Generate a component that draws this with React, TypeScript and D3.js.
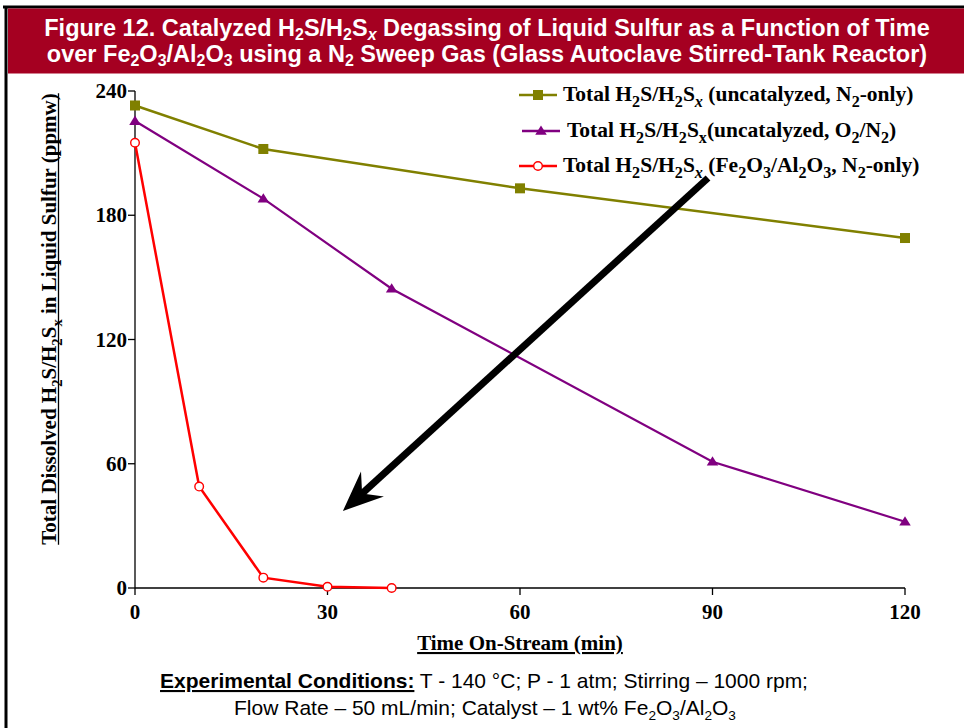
import React, { useRef, useLayoutEffect, useState } from "react";
import * as d3 from "d3";

const timeN2 = [0, 20, 60, 120];
const valN2 = [233, 212, 193, 169];
const timeO2 = [0, 20, 40, 90, 120];
const valO2 = [225.5, 188, 144.5, 61, 32];
const timeCat = [0, 10, 20, 30, 40];
const valCat = [215, 49, 5, 0.6, 0];
const xTicks = [0, 30, 60, 90, 120];
const yTicks = [0, 60, 120, 180, 240];
// annotation arrow in data units: [time, value]
const arrowFrom = [89.3, 198];
const arrowTo = [32.4, 37.2];

const W = 964;
const H = 728;
const SERIF = "'Liberation Serif', 'Times New Roman', serif";
const SANS = "'Liberation Sans', Arial, sans-serif";

type Seg = { t: string; sub?: boolean; i?: boolean; b?: boolean; u?: boolean };

function Rich({ segs, size, subScale = 0.7, subDy = 0.28 }: { segs: Seg[]; size: number; subScale?: number; subDy?: number }) {
  const out: React.ReactNode[] = [];
  let shifted = false;
  segs.forEach((s, k) => {
    let dy: number | undefined = undefined;
    if (s.sub && !shifted) { dy = size * subDy; shifted = true; }
    else if (!s.sub && shifted) { dy = -size * subDy; shifted = false; }
    out.push(
      <tspan key={k} dy={dy} fontSize={s.sub ? size * subScale : size}
        fontStyle={s.i ? "italic" : undefined}
        fontWeight={s.b === false ? "normal" : undefined}
        textDecoration={s.u ? "underline" : undefined}>{s.t}</tspan>
    );
  });
  return <>{out}</>;
}

export default function App() {
  const x = d3.scaleLinear().domain([0, 120]).range([135, 905]);
  const y = d3.scaleLinear().domain([0, 240]).range([588, 91]);

  const ylabRef = useRef<SVGTextElement>(null);
  const [ylabLen, setYlabLen] = useState(0);
  useLayoutEffect(() => {
    if (ylabRef.current) setYlabLen(ylabRef.current.getComputedTextLength());
  }, []);

  const line = d3.line<[number, number]>().x(d => x(d[0])).y(d => y(d[1]));
  const zip = (a: number[], b: number[]) => a.map((v, i) => [v, b[i]] as [number, number]);
  const sN2 = zip(timeN2, valN2);
  const sO2 = zip(timeO2, valO2);
  const sCat = zip(timeCat, valCat);

  const olive = "#808000";
  const purple = "#800080";
  const red = "#FF0000";

  const tri = (cx: number, cy: number, r: number) =>
    `M${cx},${cy - r}L${cx + r * 1.05},${cy + r * 0.7}L${cx - r * 1.05},${cy + r * 0.7}Z`;

  // arrow
  const ax0 = x(arrowFrom[0]), ay0 = y(arrowFrom[1]);
  const ax1 = x(arrowTo[0]), ay1 = y(arrowTo[1]);
  const dx = ax1 - ax0, dy = ay1 - ay0;
  const len = Math.hypot(dx, dy);
  const ux = dx / len, uy = dy / len;
  const px = -uy, py = ux;
  const headL = 40, headW = 17, notch = 26;
  const wing1 = [ax1 - ux * headL + px * headW, ay1 - uy * headL + py * headW];
  const wing2 = [ax1 - ux * headL - px * headW, ay1 - uy * headL - py * headW];
  const nb = [ax1 - ux * notch, ay1 - uy * notch];
  const headPath = `M${ax1},${ay1}L${wing1[0]},${wing1[1]}L${nb[0]},${nb[1]}L${wing2[0]},${wing2[1]}Z`;

  const FS = 21;
  const LFS = 21.5;
  const TFS = 23.5;
  const legendItems = [
    { y: 95, x0: 519, tx: 563, color: olive, kind: "sq", segs: [
      { t: "Total H" }, { t: "2", sub: true }, { t: "S/H" }, { t: "2", sub: true }, { t: "S" }, { t: "x", sub: true, i: true },
      { t: " (uncatalyzed, N" }, { t: "2", sub: true }, { t: "-only)" }] as Seg[] },
    { y: 131, x0: 522, tx: 567, color: purple, kind: "tri", segs: [
      { t: "Total H" }, { t: "2", sub: true }, { t: "S/H" }, { t: "2", sub: true }, { t: "S" }, { t: "x", sub: true },
      { t: "(uncatalyzed, O" }, { t: "2", sub: true }, { t: "/N" }, { t: "2", sub: true }, { t: ")" }] as Seg[] },
    { y: 166, x0: 519, tx: 563, color: red, kind: "circ", segs: [
      { t: "Total H" }, { t: "2", sub: true }, { t: "S/H" }, { t: "2", sub: true }, { t: "S" }, { t: "x", sub: true, i: true },
      { t: " (Fe" }, { t: "2", sub: true }, { t: "O" }, { t: "3", sub: true }, { t: "/Al" }, { t: "2", sub: true }, { t: "O" }, { t: "3", sub: true },
      { t: ", N" }, { t: "2", sub: true }, { t: "-only)" }] as Seg[] },
  ];

  const ylabX = 56, ylabY = 319;

  return (
    <svg width={W} height={H} style={{ position: "absolute", left: 0, top: 0, background: "#fff" }}>
      <rect x={0} y={0} width={W} height={H} fill="#fff" />
      {/* frame */}
      <line x1={3} y1={7} x2={W} y2={7} stroke="#000" strokeWidth={3} />
      <line x1={6} y1={6} x2={6} y2={H} stroke="#000" strokeWidth={3} />
      <rect x={8} y={8.5} width={W - 8} height={65} fill="#A50021" />
      <text x={487} y={36} textAnchor="middle" fill="#fff" fontFamily={SANS} fontWeight="bold" fontSize={TFS}>
        <Rich size={TFS} subDy={0.18} subScale={0.68} segs={[{ t: "Figure 12. Catalyzed H" }, { t: "2", sub: true }, { t: "S/H" }, { t: "2", sub: true }, { t: "S" }, { t: "x", sub: true, i: true },
          { t: " Degassing of Liquid Sulfur as a Function of Time" }]} />
      </text>
      <text x={487} y={62} textAnchor="middle" fill="#fff" fontFamily={SANS} fontWeight="bold" fontSize={TFS}>
        <Rich size={TFS} subDy={0.18} subScale={0.68} segs={[{ t: "over Fe" }, { t: "2", sub: true }, { t: "O" }, { t: "3", sub: true }, { t: "/Al" }, { t: "2", sub: true }, { t: "O" }, { t: "3", sub: true },
          { t: " using a N" }, { t: "2", sub: true }, { t: " Sweep Gas (Glass Autoclave Stirred-Tank Reactor)" }]} />
      </text>

      {/* axes */}
      <line x1={x(0)} y1={y(0)} x2={x(120)} y2={y(0)} stroke="#000" strokeWidth={1.3} />
      <line x1={x(0)} y1={y(0)} x2={x(0)} y2={y(240)} stroke="#000" strokeWidth={1.3} />
      {xTicks.map(t => (
        <g key={"xt" + t}>
          <line x1={x(t)} x2={x(t)} y1={y(0)} y2={y(0) + 7} stroke="#000" strokeWidth={1.3} />
          <text x={x(t)} y={y(0) + 31} textAnchor="middle" fontFamily={SERIF} fontWeight="bold" fontSize={FS}>{t}</text>
        </g>
      ))}
      {yTicks.map(t => (
        <g key={"yt" + t}>
          <line x1={x(0) - 7} x2={x(0)} y1={y(t)} y2={y(t)} stroke="#000" strokeWidth={1.3} />
          <text x={x(0) - 8} y={y(t) + 7} textAnchor="end" fontFamily={SERIF} fontWeight="bold" fontSize={FS}>{t}</text>
        </g>
      ))}
      <text x={520} y={650} textAnchor="middle" fontFamily={SERIF} fontWeight="bold" fontSize={FS} textDecoration="underline">Time On-Stream (min)</text>
      <g transform={`translate(${ylabX},${ylabY}) rotate(-90)`}>
        <text ref={ylabRef} x={0} y={0} textAnchor="middle" fontFamily={SERIF} fontWeight="bold" fontSize={FS}>
          <Rich size={FS} segs={[{ t: "Total Dissolved H" }, { t: "2", sub: true }, { t: "S/H" }, { t: "2", sub: true }, { t: "S" },
            { t: "x", sub: true }, { t: " in Liquid Sulfur (ppmw)" }]} />
        </text>
        {ylabLen > 0 && <line x1={-ylabLen / 2} x2={ylabLen / 2} y1={2.5} y2={2.5} stroke="#000" strokeWidth={1.3} />}
      </g>

      {/* series */}
      <path d={line(sN2) || ""} fill="none" stroke={olive} strokeWidth={2.5} />
      <path d={line(sO2) || ""} fill="none" stroke={purple} strokeWidth={2.2} />
      <path d={line(sCat) || ""} fill="none" stroke={red} strokeWidth={2.5} />
      {sN2.map((d, i) => <rect key={"s" + i} x={x(d[0]) - 5} y={y(d[1]) - 5} width={10} height={10} fill={olive} />)}
      {sO2.map((d, i) => <path key={"t" + i} d={tri(x(d[0]), y(d[1]), 5.5)} fill={purple} />)}
      {sCat.map((d, i) => <circle key={"c" + i} cx={x(d[0])} cy={y(d[1])} r={4.3} fill="#fff" stroke={red} strokeWidth={1.4} />)}

      {/* arrow */}
      <line x1={ax0} y1={ay0} x2={nb[0] + ux * 2} y2={nb[1] + uy * 2} stroke="#000" strokeWidth={7} />
      <path d={headPath} fill="#000" />

      {/* legend */}
      {legendItems.map((it, i) => (
        <g key={"lg" + i}>
          <line x1={it.x0} x2={it.x0 + 38} y1={it.y} y2={it.y} stroke={it.color} strokeWidth={2.5} />
          {it.kind === "sq" && <rect x={it.x0 + 19 - 5} y={it.y - 5} width={10} height={10} fill={it.color} />}
          {it.kind === "tri" && <path d={tri(it.x0 + 19, it.y, 5.5)} fill={it.color} />}
          {it.kind === "circ" && <circle cx={it.x0 + 19} cy={it.y} r={4.3} fill="#fff" stroke={it.color} strokeWidth={1.4} />}
          <text x={it.tx} y={it.y + 6} fontFamily={SERIF} fontWeight="bold" fontSize={LFS}>
            <Rich size={LFS} subScale={0.75} segs={it.segs} />
          </text>
        </g>
      ))}

      {/* footer */}
      <text x={484} y={688} textAnchor="middle" fontFamily={SANS} fontSize={21}>
        <tspan fontWeight="bold" textDecoration="underline">Experimental Conditions:</tspan>
        <tspan> T - 140 °C; P - 1 atm; Stirring – 1000 rpm;</tspan>
      </text>
      <text x={485} y={715} textAnchor="middle" fontFamily={SANS} fontSize={21}>
        <Rich size={21} subScale={0.65} subDy={0.25} segs={[{ t: "Flow Rate – 50 mL/min; Catalyst – 1 wt% Fe" }, { t: "2", sub: true }, { t: "O" }, { t: "3", sub: true }, { t: "/Al" }, { t: "2", sub: true }, { t: "O" }, { t: "3", sub: true }]} />
      </text>
    </svg>
  );
}
